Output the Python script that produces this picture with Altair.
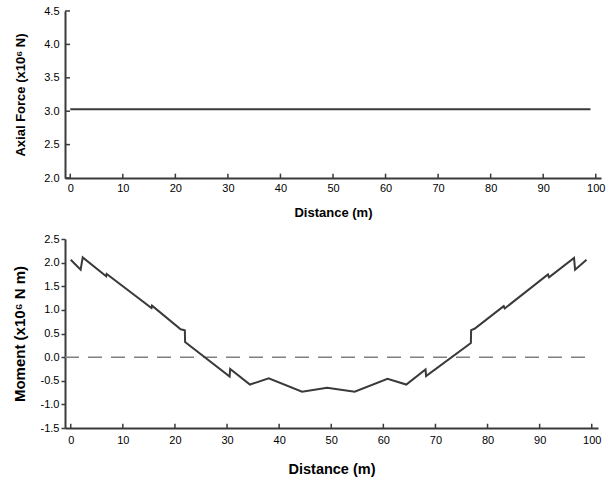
import altair as alt
import pandas as pd

# Axial force along the member (x10^6 N)
axial_dist = [0, 99]
axial_force = [3.03, 3.03]

# Bending moment along the member (x10^6 N m)
moment_dist = [0, 1.9, 2.3, 6.8, 6.9, 15.5, 15.6, 21.1, 21.9, 21.95, 30.5, 30.6,
               34.4, 38.0, 44.4, 49.2, 54.5, 60.8, 64.4, 68.1, 68.2, 76.8, 76.85,
               77.5, 83.1, 83.3, 91.6, 91.8, 96.6, 96.8, 99.0]
moment_val = [2.06, 1.85, 2.11, 1.71, 1.76, 1.04, 1.09, 0.59, 0.57, 0.32, -0.41, -0.25,
              -0.58, -0.45, -0.73, -0.65, -0.73, -0.46, -0.58, -0.26, -0.40, 0.30, 0.57,
              0.60, 1.08, 1.03, 1.75, 1.69, 2.10, 1.85, 2.06]

# Axis tick values
dist_ticks = [0, 10, 20, 30, 40, 50, 60, 70, 80, 90, 100]
axial_ticks = [2.0, 2.5, 3.0, 3.5, 4.0, 4.5]
moment_ticks = [-1.5, -1.0, -0.5, 0.0, 0.5, 1.0, 1.5, 2.0, 2.5]

FONT = "Liberation Sans"
INK = "#3a3a3a"
# one-decimal labels with a plain hyphen for negatives
ONE_DEC = "datum.value < 0 ? '-' + format(-datum.value, '.1f') : format(datum.value, '.1f')"

axial_df = pd.DataFrame({"d": axial_dist, "v": axial_force})
moment_df = pd.DataFrame({"d": moment_dist, "v": moment_val})

# ---------- top panel: axial force ----------
ax_x = alt.Scale(domain=[-1, 101], nice=False, zero=False)
ax_y = alt.Scale(domain=[2.0, 4.5], nice=False, zero=False)

x_axis_top = alt.Axis(values=dist_ticks, ticks=False, grid=False, title="Distance (m)",
                      labelFontSize=11, titleFontSize=13, labelPadding=4, titlePadding=13,
                      labelOverlap=False, domainColor=INK, domainWidth=2)
y_axis_top = alt.Axis(values=axial_ticks, labelExpr=ONE_DEC, ticks=False, grid=False,
                      title="Axial Force (x10⁶ N)", labelFontSize=11, titleFontSize=13,
                      labelPadding=6, titlePadding=16, labelOverlap=False,
                      domainColor=INK, domainWidth=2)

axial_line = alt.Chart(axial_df).mark_line(color=INK, strokeWidth=2).encode(
    x=alt.X("d:Q", scale=ax_x, axis=x_axis_top),
    y=alt.Y("v:Q", scale=ax_y, axis=y_axis_top),
)

# inward tick marks on the top panel
top_xt = pd.DataFrame({"d": dist_ticks, "y0": [2.0] * len(dist_ticks), "y1": [2.065] * len(dist_ticks)})
top_yt = pd.DataFrame({"v": axial_ticks, "x0": [-1.0] * len(axial_ticks), "x1": [-0.05] * len(axial_ticks)})
top_xticks = alt.Chart(top_xt).mark_rule(color=INK, strokeWidth=1.5).encode(
    x=alt.X("d:Q", scale=ax_x, axis=x_axis_top),
    y=alt.Y("y0:Q", scale=ax_y, axis=y_axis_top), y2="y1:Q")
top_yticks = alt.Chart(top_yt).mark_rule(color=INK, strokeWidth=1.5).encode(
    y=alt.Y("v:Q", scale=ax_y, axis=y_axis_top),
    x=alt.X("x0:Q", scale=ax_x, axis=x_axis_top), x2="x1:Q")

top = alt.layer(axial_line, top_xticks, top_yticks).properties(width=536, height=167)

# ---------- bottom panel: moment ----------
mo_x = alt.Scale(domain=[-1.1, 101.2], nice=False, zero=False)
mo_y = alt.Scale(domain=[-1.5, 2.5], nice=False, zero=False)

x_axis_bot = alt.Axis(values=dist_ticks, ticks=False, grid=False, title="Distance (m)",
                      labelFontSize=11, titleFontSize=14.5, labelPadding=6, titlePadding=17,
                      labelOverlap=False, domainColor=INK, domainWidth=2)
y_axis_bot = alt.Axis(values=moment_ticks, labelExpr=ONE_DEC, ticks=True, tickSize=4,
                      tickColor=INK, tickWidth=1.5, grid=False,
                      title="Moment (x10⁶ N m)", labelFontSize=11, titleFontSize=15,
                      labelPadding=2, titlePadding=13, labelOverlap=False,
                      domainColor=INK, domainWidth=2)

zero_df = pd.DataFrame({"x0": [-1.1], "x1": [100], "y": [0.0]})
zero_line = alt.Chart(zero_df).mark_rule(color="#808080", strokeWidth=1.5,
                                         strokeDash=[14, 9]).encode(
    x=alt.X("x0:Q", scale=mo_x, axis=x_axis_bot),
    x2="x1:Q",
    y=alt.Y("y:Q", scale=mo_y, axis=y_axis_bot),
)

moment_line = alt.Chart(moment_df).mark_line(color=INK, strokeWidth=2).encode(
    x=alt.X("d:Q", scale=mo_x, axis=x_axis_bot),
    y=alt.Y("v:Q", scale=mo_y, axis=y_axis_bot),
)

bot_xt = pd.DataFrame({"d": dist_ticks, "y0": [-1.5] * len(dist_ticks), "y1": [-1.41] * len(dist_ticks)})
bot_xticks = alt.Chart(bot_xt).mark_rule(color=INK, strokeWidth=1.5).encode(
    x=alt.X("d:Q", scale=mo_x, axis=x_axis_bot),
    y=alt.Y("y0:Q", scale=mo_y, axis=y_axis_bot), y2="y1:Q")

bottom = alt.layer(zero_line, moment_line, bot_xticks).properties(width=533, height=189)

chart = alt.vconcat(top, bottom, spacing=14).properties(
    padding={"left": 12, "top": 5, "right": 5, "bottom": 5}
).configure_view(stroke=None).configure_axis(
    labelFont=FONT, titleFont=FONT, labelColor="#000000", titleColor="#000000",
    titleFontWeight="bold", labelOverlap=False,
)

chart.save("out.html", embed_options={"renderer": "svg", "actions": False})
